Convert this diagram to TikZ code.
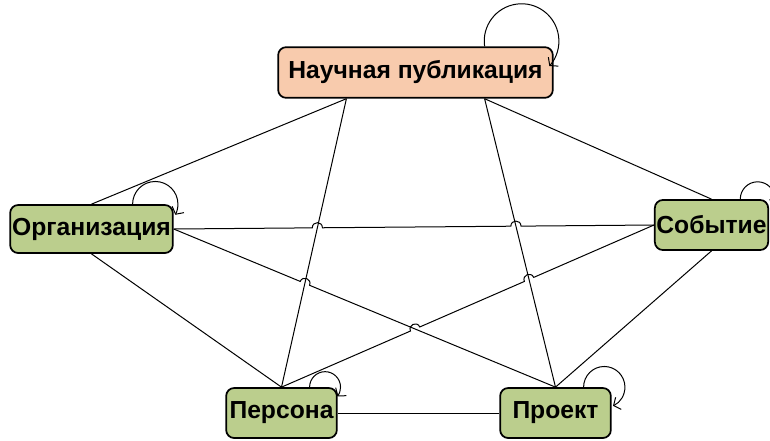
\documentclass[tikz,border=0pt]{standalone}
\usepackage{fontspec}
\setmainfont{Liberation Sans}
\usepackage{tikz}
\usetikzlibrary{arrows.meta,calc,positioning}
\definecolor{pubfill}{RGB}{248,203,173}
\definecolor{entfill}{RGB}{187,206,141}
\tikzset{
  entity/.style={ draw, line width=1.3pt, rounded corners=6pt, fill=entfill, inner sep=0pt,
    font=\fontsize{18.5}{22}\selectfont\bfseries }
}
\tikzset{
  pubbox/.style={ entity, fill=pubfill }
}
\tikzset{
  link/.style={ line width=0.75pt }
}
\tikzset{
  selfloop/.style={ line width=0.75pt, -{Straight Barb[length=4pt,width=10pt]} }
}
% little bridge where one link jumps over another
\newcommand{\hoprad}{3.8pt}
\newcommand{\hopctl}{5.1pt}
\newcommand{\mkhop}[4]{%
  \coordinate (#1a) at ($(#4)!\hoprad!(#2)$);
  \coordinate (#1b) at ($(#4)!\hoprad!(#3)$);
  \coordinate (#1c) at ($(#1a)!\hopctl!90:(#4)$);
  \coordinate (#1d) at ($(#1b)!\hopctl!-90:(#4)$);
}

\begin{document}
\begin{tikzpicture}[x=0.75pt, y=-0.75pt]
      \useasboundingbox (0,0) rectangle (770,440);

      \node[pubbox, minimum width=206pt, minimum height=38pt] (pub) at (415.5, 72.5) {Научная публикация};
      \node[entity, minimum width=122pt, minimum height=36pt] (org) at (91.5, 229) {Организация};
      \node[entity, minimum width=85pt, minimum height=37.5pt] (sob) at (711.5, 225) {Событие};
      \node[entity, minimum width=83pt, minimum height=37.5pt] (per) at (281.5, 413) {Персона};
      \node[entity, minimum width=83pt, minimum height=37.5pt] (proj) at (555.5, 413) {Проект};

      \coordinate (pubL) at ($(pub.south west)!0.25!(pub.south east)$);
      \coordinate (pubR) at ($(pub.south west)!0.75!(pub.south east)$);

      \coordinate (x1) at (intersection of pubL--per.north and org.east--sob.west);
      \coordinate (x2) at (intersection of pubR--proj.north and org.east--sob.west);
      \coordinate (x3) at (intersection of pubL--per.north and org.east--proj.north);
      \coordinate (x4) at (intersection of org.east--proj.north and per.north--sob.west);
      \coordinate (x5) at (intersection of pubR--proj.north and per.north--sob.west);
      \mkhop{h1}{org.east}{sob.west}{x1}
      \mkhop{h2}{org.east}{sob.west}{x2}
      \mkhop{h3}{org.east}{proj.north}{x3}
      \mkhop{h4}{per.north}{sob.west}{x4}
      \mkhop{h5}{per.north}{sob.west}{x5}

      \draw[link] (pubL) -- (org.north);
      \draw[link] (pubL) -- (per.north);
      \draw[link] (pubR) -- (proj.north);
      \draw[link] (pubR) -- (sob.north);
      \draw[link] (org.south) -- (per.north);
      \draw[link] (sob.south) -- (proj.north);
      \draw[link] (per.east) -- (proj.west);
      \draw[link] (org.east) -- (h1a) .. controls (h1c) and (h1d) .. (h1b)
                             -- (h2a) .. controls (h2c) and (h2d) .. (h2b) -- (sob.west);
      \draw[link] (org.east) -- (h3a) .. controls (h3c) and (h3d) .. (h3b) -- (proj.north);
      \draw[link] (per.north) -- (h4a) .. controls (h4c) and (h4d) .. (h4b)
                              -- (h5a) .. controls (h5c) and (h5d) .. (h5b) -- (sob.west);

      % loops on the top right corners
      \draw[selfloop] ($(pub.north west)!0.75!(pub.north east)$) arc[start angle=188, end angle=-42, radius=28pt];
      \draw[selfloop] ($(org.north west)!0.75!(org.north east)$) arc[start angle=180, end angle=-28, radius=17pt];
      \draw[selfloop] ($(sob.north west)!0.75!(sob.north east)$) arc[start angle=180, end angle=-30, radius=13pt];
      \draw[selfloop] ($(per.north west)!0.75!(per.north east)$) arc[start angle=180, end angle=-37, radius=11.6pt];
      \draw[selfloop] ($(proj.north west)!0.75!(proj.north east)$) arc[start angle=180, end angle=-65, radius=15.5pt];
\end{tikzpicture}
\end{document}
